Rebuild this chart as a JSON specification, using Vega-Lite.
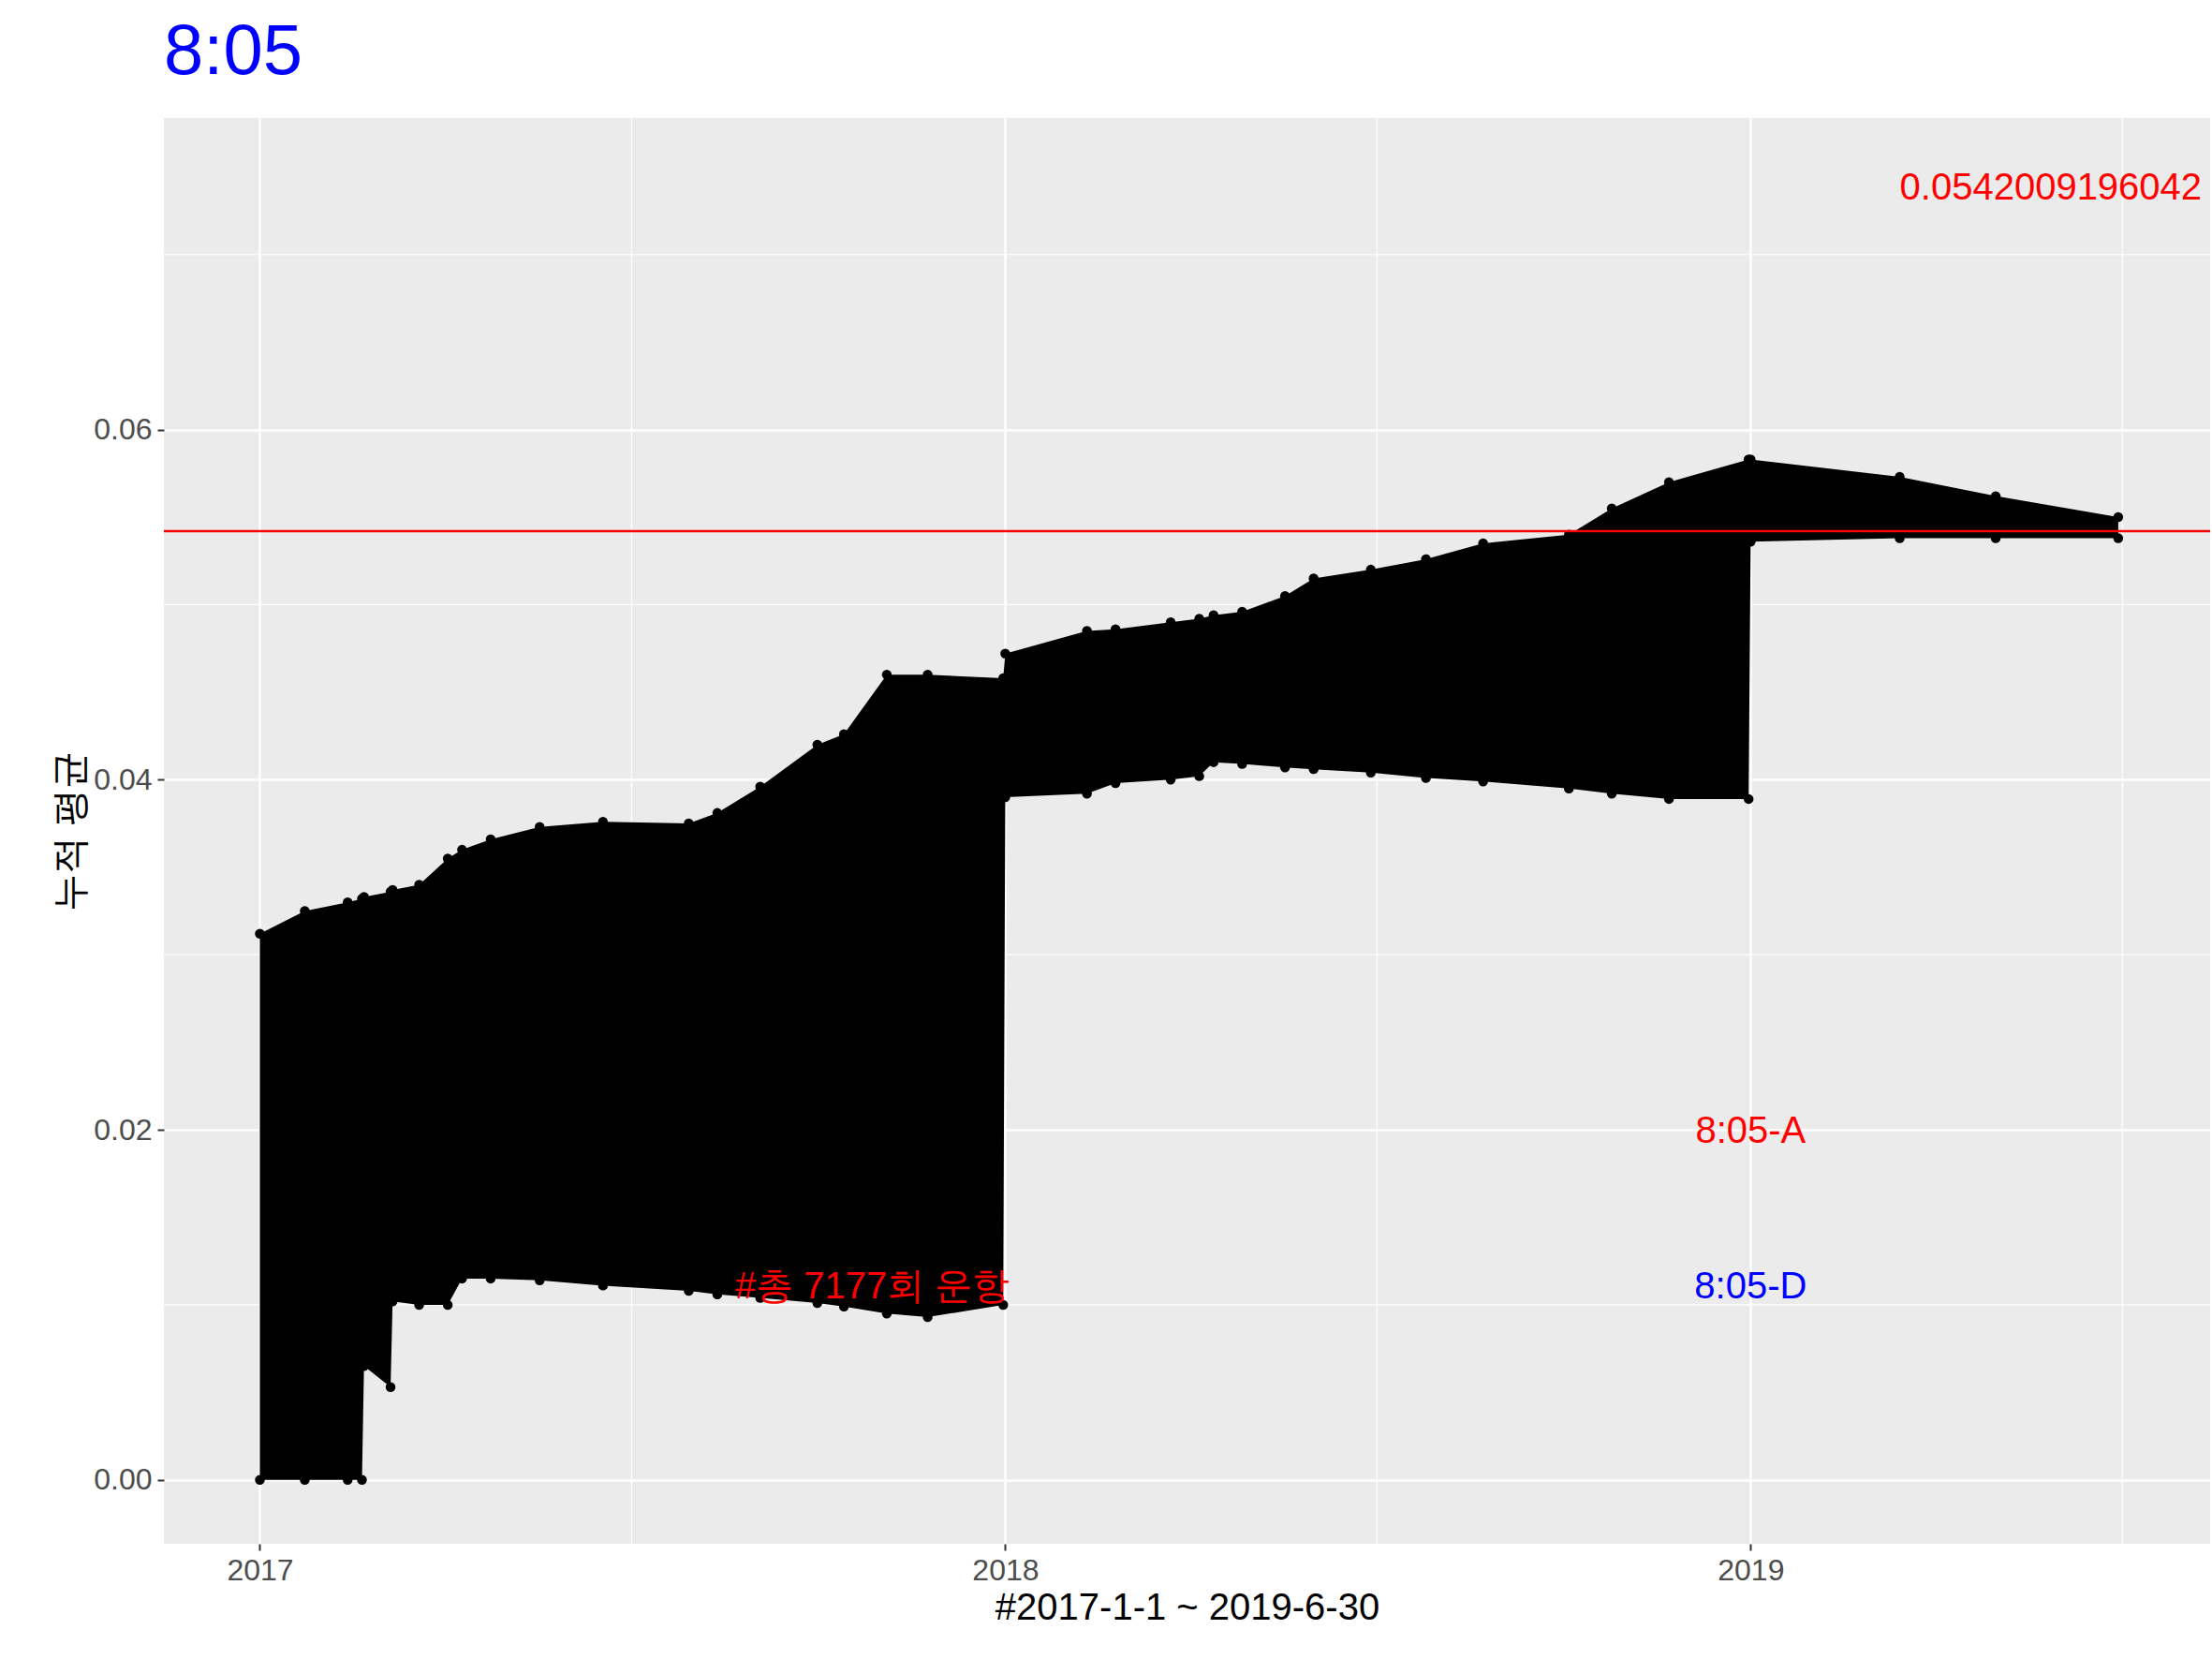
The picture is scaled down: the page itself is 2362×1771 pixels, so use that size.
{
  "$schema": "https://vega.github.io/schema/vega-lite/v6.json",
  "autosize": {"type": "fit", "contains": "padding"},
  "width": 2362,
  "height": 1771,
  "padding": {"left": 55, "top": 18, "right": 0, "bottom": 35},
  "background": "white",
  "title": {"text": "8:05", "color": "blue", "fontSize": 76, "font": "Liberation Sans", "fontWeight": "normal", "anchor": "start", "frame": "group", "offset": 30},
  "config": {
    "view": {"stroke": null, "fill": "#EBEBEB"},
    "font": "Liberation Sans",
    "axis": {"gridColor": "white", "gridWidth": 2.5, "domain": false, "tickColor": "#333333", "tickSize": 7, "tickWidth": 2, "labelColor": "#4D4D4D", "labelFontSize": 32, "titleFontSize": 40, "titleFontWeight": "normal", "titleColor": "black", "labelPadding": 6}
  },
  "datasets": {
    "band": [
      {"date": "2017-01-01", "hi": 0.0312, "lo": 0.0},
      {"date": "2017-01-23", "hi": 0.0325, "lo": 0.0},
      {"date": "2017-02-13", "hi": 0.033, "lo": 0.0},
      {"date": "2017-02-20", "hi": 0.0332, "lo": 0.0},
      {"date": "2017-02-21", "hi": 0.0333, "lo": 0.0065},
      {"date": "2017-03-06", "hi": 0.0336, "lo": 0.0053},
      {"date": "2017-03-07", "hi": 0.0337, "lo": 0.0102},
      {"date": "2017-03-20", "hi": 0.034, "lo": 0.0100},
      {"date": "2017-04-03", "hi": 0.0355, "lo": 0.0100},
      {"date": "2017-04-10", "hi": 0.036, "lo": 0.0115},
      {"date": "2017-04-24", "hi": 0.0366, "lo": 0.0115},
      {"date": "2017-05-18", "hi": 0.0373, "lo": 0.0114},
      {"date": "2017-06-18", "hi": 0.0376, "lo": 0.0111},
      {"date": "2017-07-30", "hi": 0.0375, "lo": 0.0108},
      {"date": "2017-08-13", "hi": 0.0381, "lo": 0.0106},
      {"date": "2017-09-03", "hi": 0.0396, "lo": 0.0104},
      {"date": "2017-10-01", "hi": 0.0420, "lo": 0.0101},
      {"date": "2017-10-14", "hi": 0.0426, "lo": 0.0099},
      {"date": "2017-11-04", "hi": 0.0460, "lo": 0.0095},
      {"date": "2017-11-24", "hi": 0.0460, "lo": 0.0093},
      {"date": "2017-12-31", "hi": 0.0458, "lo": 0.0100},
      {"date": "2018-01-01", "hi": 0.0472, "lo": 0.0390},
      {"date": "2018-02-10", "hi": 0.0485, "lo": 0.0392},
      {"date": "2018-02-24", "hi": 0.0486, "lo": 0.0398},
      {"date": "2018-03-23", "hi": 0.0490, "lo": 0.0400},
      {"date": "2018-04-06", "hi": 0.0492, "lo": 0.0402},
      {"date": "2018-04-13", "hi": 0.0494, "lo": 0.0410},
      {"date": "2018-04-27", "hi": 0.0496, "lo": 0.0409},
      {"date": "2018-05-18", "hi": 0.0505, "lo": 0.0407},
      {"date": "2018-06-01", "hi": 0.0515, "lo": 0.0406},
      {"date": "2018-06-29", "hi": 0.0520, "lo": 0.0404},
      {"date": "2018-07-26", "hi": 0.0526, "lo": 0.0401},
      {"date": "2018-08-23", "hi": 0.0535, "lo": 0.0399},
      {"date": "2018-10-04", "hi": 0.0540, "lo": 0.0395},
      {"date": "2018-10-25", "hi": 0.0555, "lo": 0.0392},
      {"date": "2018-11-22", "hi": 0.0570, "lo": 0.0389},
      {"date": "2018-12-31", "hi": 0.0583, "lo": 0.0389},
      {"date": "2019-01-01", "hi": 0.0583, "lo": 0.0536},
      {"date": "2019-03-15", "hi": 0.0573, "lo": 0.0538},
      {"date": "2019-05-01", "hi": 0.0562, "lo": 0.0538},
      {"date": "2019-06-30", "hi": 0.0550, "lo": 0.0538}
    ],
    "hgrid": [{"v": 0.01}, {"v": 0.03}, {"v": 0.05}, {"v": 0.07}],
    "vgrid": [{"d": "2017-07-02"}, {"d": "2018-07-02"}, {"d": "2019-07-02"}],
    "labels": [
      {"date": "2019-01-01", "v": 0.0199, "label": "8:05-A", "col": "red"},
      {"date": "2019-01-01", "v": 0.011, "label": "8:05-D", "col": "blue"},
      {"date": "2017-10-28", "v": 0.011, "label": "#총 7177회 운항", "col": "red"}
    ]
  },
  "encoding": {},
  "layer": [
    {
      "data": {"name": "hgrid"},
      "mark": {"type": "rule", "color": "white", "strokeWidth": 1.2},
      "encoding": {"y": {"field": "v", "type": "quantitative"}}
    },
    {
      "data": {"name": "vgrid"},
      "mark": {"type": "rule", "color": "white", "strokeWidth": 1.2},
      "encoding": {"x": {"field": "d", "type": "temporal"}}
    },
    {
      "data": {"name": "band"},
      "mark": {"type": "area", "color": "black", "interpolate": "linear"},
      "encoding": {
        "x": {"field": "date", "type": "temporal", "title": "#2017-1-1 ~ 2019-6-30",
          "scale": {"domain": ["2016-11-15", "2019-08-14"], "nice": false},
          "axis": {"values": ["2017-01-01", "2018-01-01", "2019-01-01"], "format": "%Y", "labelFlush": false}},
        "y": {"field": "hi", "type": "quantitative", "title": "누적 평균",
          "scale": {"domain": [-0.00365, 0.0778], "nice": false, "zero": false},
          "axis": {"values": [0, 0.02, 0.04, 0.06], "format": ".2f"}},
        "y2": {"field": "lo"}
      }
    },
    {
      "data": {"name": "band"},
      "mark": {"type": "circle", "color": "black", "size": 110, "opacity": 1},
      "encoding": {"x": {"field": "date", "type": "temporal"}, "y": {"field": "hi", "type": "quantitative"}}
    },
    {
      "data": {"name": "band"},
      "mark": {"type": "circle", "color": "black", "size": 110, "opacity": 1},
      "encoding": {"x": {"field": "date", "type": "temporal"}, "y": {"field": "lo", "type": "quantitative"}}
    },
    {
      "data": {"values": [{"v": 0.0542009196}]},
      "mark": {"type": "rule", "color": "red", "strokeWidth": 2.5},
      "encoding": {"y": {"field": "v", "type": "quantitative"}}
    },
    {
      "data": {"name": "labels"},
      "mark": {"type": "text", "fontSize": 40, "baseline": "middle", "align": "center"},
      "encoding": {
        "x": {"field": "date", "type": "temporal"},
        "y": {"field": "v", "type": "quantitative"},
        "text": {"field": "label"},
        "color": {"field": "col", "type": "nominal", "scale": null}
      }
    },
    {
      "data": {"values": [{"date": "2019-03-15", "v": 0.0738, "label": "0.0542009196042"}]},
      "mark": {"type": "text", "fontSize": 40, "baseline": "middle", "align": "left", "color": "red"},
      "encoding": {
        "x": {"field": "date", "type": "temporal"},
        "y": {"field": "v", "type": "quantitative"},
        "text": {"field": "label"}
      }
    }
  ]
}
